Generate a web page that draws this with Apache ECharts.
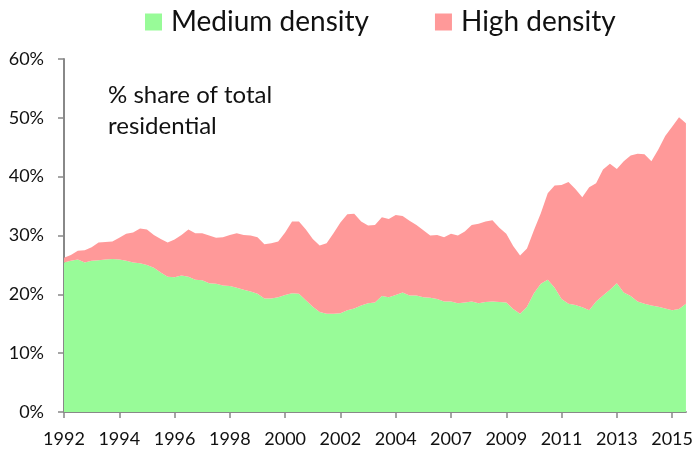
<!DOCTYPE html>
<html>
<head>
<meta charset="utf-8">
<script src="https://cdn.jsdelivr.net/npm/echarts@6/dist/echarts.min.js"></script>
<style>
  html, body { margin: 0; padding: 0; background: #fff; }
  #main { width: 696px; height: 454px; }
</style>
</head>
<body>
<div id="main"></div>
<script>
// year labels, one every 8 quarters on the category axis
var tickLabels = ['1992', '1994', '1996', '1998', '2000', '2002', '2004', '2007', '2009', '2011', '2013', '2015'];

// % share of total residential
var medium = [
  25.4, 25.7, 25.9, 25.4, 25.7, 25.8, 25.9, 26.0, 25.9, 25.7,
  25.4, 25.3, 25.0, 24.5, 23.7, 23.0, 22.9, 23.2, 23.0, 22.5,
  22.4, 21.9, 21.8, 21.5, 21.4, 21.1, 20.8, 20.5, 20.1, 19.3,
  19.3, 19.5, 19.9, 20.2, 20.1, 19.0, 17.9, 17.0, 16.7, 16.7,
  16.8, 17.3, 17.6, 18.1, 18.5, 18.6, 19.7, 19.5, 19.9, 20.3,
  19.8, 19.8, 19.5, 19.4, 19.2, 18.8, 18.8, 18.5, 18.6, 18.8,
  18.5, 18.7, 18.8, 18.7, 18.6, 17.5, 16.7, 17.9, 20.2, 21.8,
  22.5, 21.1, 19.2, 18.4, 18.2, 17.8, 17.3, 18.8, 19.8, 20.8,
  21.9, 20.3, 19.7, 18.8, 18.4, 18.1, 17.9, 17.6, 17.3, 17.5,
  18.4
];
var high = [
  0.8, 1.0, 1.5, 2.1, 2.3, 3.0, 3.0, 3.0, 3.7, 4.6,
  5.1, 5.9, 6.0, 5.6, 5.7, 5.8, 6.4, 6.9, 8.0, 7.9,
  8.0, 8.1, 7.8, 8.2, 8.7, 9.3, 9.3, 9.5, 9.6, 9.2,
  9.4, 9.5, 10.6, 12.2, 12.3, 12.0, 11.5, 11.3, 12.0, 13.7,
  15.4, 16.3, 16.1, 14.3, 13.2, 13.2, 13.4, 13.3, 13.6, 13.0,
  12.7, 12.0, 11.4, 10.6, 10.9, 10.9, 11.5, 11.5, 12.1, 13.0,
  13.5, 13.7, 13.8, 12.6, 11.7, 10.7, 9.9, 9.9, 10.7, 12.0,
  14.7, 17.4, 19.4, 20.7, 19.7, 18.7, 20.9, 20.1, 21.4, 21.4,
  19.4, 22.3, 23.9, 25.1, 25.4, 24.5, 26.7, 29.3, 31.2, 32.6,
  30.7
];

var step = 8;
var cats = medium.map(function (v, i) {
  return i % step === 0 ? tickLabels[i / step] : '';
});
var showTick = function (i) { return i % step === 0; };

var chart = echarts.init(document.getElementById('main'));
var font = 'Lato, "Open Sans", sans-serif';

var option = {
  animation: false,
  backgroundColor: '#fff',
  title: {
    text: '% share of total\nresidential',
    left: 103,
    top: 75,
    textStyle: { fontFamily: font, fontSize: 24, fontWeight: 'normal', color: '#111', lineHeight: 31 }
  },
  legend: {
    left: 140,
    top: 3,
    itemWidth: 17,
    itemHeight: 17,
    itemGap: 66,
    icon: 'rect',
    textStyle: { fontFamily: font, fontSize: 28, color: '#111', padding: [0, 0, 0, 4] },
    data: ['Medium density', 'High density']
  },
  grid: { left: 64, right: 6, top: 59, bottom: 42 },
  xAxis: {
    type: 'category',
    boundaryGap: false,
    data: cats,
    axisLine: { lineStyle: { color: '#888', width: 2 } },
    axisTick: { show: true, interval: showTick, length: 6, lineStyle: { color: '#888', width: 1.5 } },
    axisLabel: { interval: showTick, margin: 18, fontFamily: font, fontSize: 18, color: '#111' },
    splitLine: { show: false }
  },
  yAxis: {
    type: 'value',
    min: 0,
    max: 60,
    interval: 10,
    axisLine: { show: true, lineStyle: { color: '#888', width: 2 } },
    axisTick: { show: true, length: 6, lineStyle: { color: '#888', width: 1.5 } },
    axisLabel: { formatter: '{value}%', margin: 20, fontFamily: font, fontSize: 18, color: '#111' },
    splitLine: { show: false }
  },
  series: [
    {
      name: 'Medium density',
      type: 'line',
      stack: 'total',
      symbol: 'none',
      color: '#98FB98',
      lineStyle: { width: 0 },
      areaStyle: { color: '#98FB98', opacity: 1 },
      data: medium
    },
    {
      name: 'High density',
      type: 'line',
      stack: 'total',
      symbol: 'none',
      color: '#FF9999',
      lineStyle: { width: 0 },
      areaStyle: { color: '#FF9999', opacity: 1 },
      data: high
    }
  ]
};

chart.setOption(option);
</script>
</body>
</html>
